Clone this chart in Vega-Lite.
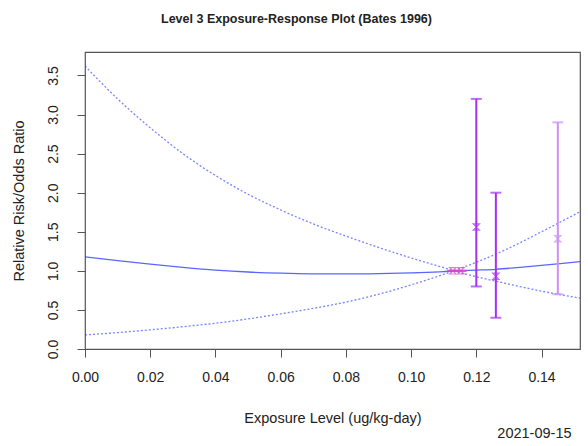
{
  "$schema": "https://vega.github.io/schema/vega-lite/v6.json",
  "width": 495,
  "height": 297,
  "autosize": "none",
  "padding": {"left": 85, "top": 52, "right": 8, "bottom": 97},
  "background": "white",
  "config": {
    "view": {"stroke": "#555", "strokeWidth": 1.2},
    "font": "Liberation Sans",
    "axis": {"grid": false, "domain": false, "labelFlush": false, "labelOverlap": false, "tickColor": "#555", "tickSize": 8, "labelColor": "#222", "titleColor": "#222", "labelFont": "Liberation Sans", "titleFont": "Liberation Sans", "labelFontSize": 14, "titleFontSize": 14.5, "titleFontWeight": "normal"}
  },
  "title": {"text": "Level 3 Exposure-Response Plot (Bates 1996)", "font": "Liberation Sans", "fontSize": 12.5, "fontWeight": "bold", "color": "#222", "dx": -36, "offset": 27, "anchor": "middle"},
  "datasets": {
    "curves": [
      {"x": 0, "rr": 3.62, "curve": "upper"},
      {"x": 0.01, "rr": 3.2, "curve": "upper"},
      {"x": 0.02, "rr": 2.83, "curve": "upper"},
      {"x": 0.03, "rr": 2.5, "curve": "upper"},
      {"x": 0.04, "rr": 2.22, "curve": "upper"},
      {"x": 0.05, "rr": 1.98, "curve": "upper"},
      {"x": 0.06, "rr": 1.78, "curve": "upper"},
      {"x": 0.07, "rr": 1.6, "curve": "upper"},
      {"x": 0.08, "rr": 1.445, "curve": "upper"},
      {"x": 0.09, "rr": 1.3, "curve": "upper"},
      {"x": 0.1, "rr": 1.165, "curve": "upper"},
      {"x": 0.11, "rr": 1.04, "curve": "upper"},
      {"x": 0.113, "rr": 1.0, "curve": "upper"},
      {"x": 0.12, "rr": 0.925, "curve": "upper"},
      {"x": 0.13, "rr": 0.83, "curve": "upper"},
      {"x": 0.14, "rr": 0.74, "curve": "upper"},
      {"x": 0.152, "rr": 0.65, "curve": "upper"},
      {"x": 0, "rr": 0.18, "curve": "lower"},
      {"x": 0.01, "rr": 0.21, "curve": "lower"},
      {"x": 0.02, "rr": 0.245, "curve": "lower"},
      {"x": 0.03, "rr": 0.285, "curve": "lower"},
      {"x": 0.04, "rr": 0.33, "curve": "lower"},
      {"x": 0.05, "rr": 0.385, "curve": "lower"},
      {"x": 0.06, "rr": 0.45, "curve": "lower"},
      {"x": 0.07, "rr": 0.52, "curve": "lower"},
      {"x": 0.08, "rr": 0.6, "curve": "lower"},
      {"x": 0.09, "rr": 0.7, "curve": "lower"},
      {"x": 0.1, "rr": 0.82, "curve": "lower"},
      {"x": 0.11, "rr": 0.955, "curve": "lower"},
      {"x": 0.113, "rr": 1.0, "curve": "lower"},
      {"x": 0.12, "rr": 1.11, "curve": "lower"},
      {"x": 0.13, "rr": 1.29, "curve": "lower"},
      {"x": 0.14, "rr": 1.5, "curve": "lower"},
      {"x": 0.152, "rr": 1.76, "curve": "lower"}
    ],
    "fit": [
      {"x": 0, "rr": 1.18},
      {"x": 0.01, "rr": 1.13},
      {"x": 0.02, "rr": 1.085},
      {"x": 0.03, "rr": 1.045},
      {"x": 0.04, "rr": 1.01},
      {"x": 0.05, "rr": 0.985},
      {"x": 0.06, "rr": 0.97},
      {"x": 0.07, "rr": 0.962},
      {"x": 0.08, "rr": 0.96},
      {"x": 0.09, "rr": 0.965},
      {"x": 0.1, "rr": 0.975},
      {"x": 0.11, "rr": 0.99},
      {"x": 0.113, "rr": 1.0},
      {"x": 0.12, "rr": 1.01},
      {"x": 0.126, "rr": 1.02},
      {"x": 0.135, "rr": 1.05},
      {"x": 0.145, "rr": 1.09},
      {"x": 0.152, "rr": 1.12}
    ],
    "studies": [
      {"x": 0.1128, "rr": 1.0, "lo": 1.0, "hi": 1.0, "group": "ref"},
      {"x": 0.1153, "rr": 1.0, "lo": 1.0, "hi": 1.0, "group": "ref"},
      {"x": 0.12, "rr": 1.56, "lo": 0.8, "hi": 3.2, "group": "a"},
      {"x": 0.126, "rr": 0.93, "lo": 0.4, "hi": 2.0, "group": "a"},
      {"x": 0.145, "rr": 1.41, "lo": 0.7, "hi": 2.9, "group": "b"}
    ]
  },
  "layer": [
    {
      "data": {"name": "curves"},
      "mark": {"type": "line", "color": "#2233ff", "strokeWidth": 1.3, "strokeDash": [2, 2], "opacity": 0.6, "clip": true, "interpolate": "monotone"},
      "encoding": {
        "x": {"field": "x", "type": "quantitative", "scale": {"domain": [0, 0.1518], "nice": false, "zero": false},
          "axis": {"values": [0, 0.02, 0.04, 0.06, 0.08, 0.1, 0.12, 0.14], "format": ".2f", "labelPadding": 13, "title": "Exposure Level (ug/kg-day)", "titlePadding": 27}},
        "y": {"field": "rr", "type": "quantitative", "scale": {"domain": [0, 3.8], "nice": false},
          "axis": {"values": [0, 0.5, 1, 1.5, 2, 2.5, 3, 3.5], "format": ".1f", "labelAngle": -90, "labelAlign": "center", "labelBaseline": "bottom", "labelPadding": 17, "title": "Relative Risk/Odds Ratio", "titlePadding": 20}},
        "detail": {"field": "curve"}
      }
    },
    {
      "data": {"name": "fit"},
      "mark": {"type": "line", "color": "#2233ff", "strokeWidth": 1.3, "opacity": 0.75, "clip": true, "interpolate": "monotone"},
      "encoding": {
        "x": {"field": "x", "type": "quantitative"},
        "y": {"field": "rr", "type": "quantitative"}
      }
    },
    {
      "data": {"name": "studies"},
      "mark": {"type": "rule", "strokeWidth": 2},
      "encoding": {
        "x": {"field": "x", "type": "quantitative"},
        "y": {"field": "lo", "type": "quantitative"},
        "y2": {"field": "hi"},
        "color": {"field": "group", "type": "nominal", "legend": null, "scale": {"domain": ["ref", "a", "b"], "range": ["#dd44cc", "#a630f2", "#cf8ef6"]}}
      }
    },
    {
      "data": {"name": "studies"},
      "mark": {"type": "tick", "orient": "horizontal", "size": 11, "thickness": 2},
      "encoding": {
        "x": {"field": "x", "type": "quantitative"},
        "y": {"field": "hi", "type": "quantitative"},
        "color": {"field": "group", "type": "nominal", "legend": null}
      }
    },
    {
      "data": {"name": "studies"},
      "mark": {"type": "tick", "orient": "horizontal", "size": 11, "thickness": 2},
      "encoding": {
        "x": {"field": "x", "type": "quantitative"},
        "y": {"field": "lo", "type": "quantitative"},
        "color": {"field": "group", "type": "nominal", "legend": null}
      }
    },
    {
      "data": {"name": "studies"},
      "mark": {"type": "point", "shape": "M-1,-1H1L-1,1H1Z", "size": 40, "strokeWidth": 1.2, "filled": false},
      "encoding": {
        "x": {"field": "x", "type": "quantitative"},
        "y": {"field": "rr", "type": "quantitative"},
        "color": {"field": "group", "type": "nominal", "legend": null}
      }
    },
    {
      "data": {"values": [{"x": 0.1492, "rr": -1.09, "label": "2021-09-15"}]},
      "mark": {"type": "text", "align": "right", "baseline": "middle", "fontSize": 14.5, "font": "Liberation Sans", "color": "#222"},
      "encoding": {
        "x": {"field": "x", "type": "quantitative"},
        "y": {"field": "rr", "type": "quantitative"},
        "text": {"field": "label"}
      }
    }
  ]
}
